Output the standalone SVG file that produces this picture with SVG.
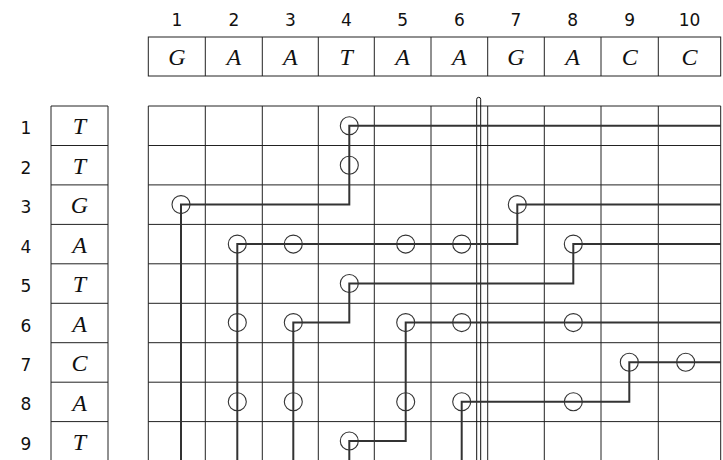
<svg xmlns="http://www.w3.org/2000/svg" width="723" height="460" viewBox="0 0 723 460">
<style>
.num{font-family:"DejaVu Sans","Liberation Sans",sans-serif;font-size:17px;fill:#111;text-anchor:middle}
.let{font-family:"Liberation Serif",serif;font-style:italic;font-size:24px;fill:#111;text-anchor:middle}
.box{fill:none;stroke:#222;stroke-width:1}
.grid{fill:none;stroke:#222;stroke-width:1}
.wire{fill:none;stroke:#333;stroke-width:2}
.dot{fill:none;stroke:#333;stroke-width:1.1}
.bar{fill:none;stroke:#111;stroke-width:1}
</style>
<rect width="723" height="460" fill="#fff"/>
<g id="header">
<text class="num" x="176.8" y="25.5">1</text>
<text class="num" x="233.8" y="25.5">2</text>
<text class="num" x="290.3" y="25.5">3</text>
<text class="num" x="346.3" y="25.5">4</text>
<text class="num" x="402.7" y="25.5">5</text>
<text class="num" x="459.3" y="25.5">6</text>
<text class="num" x="516" y="25.5">7</text>
<text class="num" x="572.7" y="25.5">8</text>
<text class="num" x="629.7" y="25.5">9</text>
<text class="num" x="689.5" y="25.5">10</text>
<rect class="box" x="148.3" y="37" width="572.4" height="39"/>
<path class="box" d="M205.3 37V76M262.3 37V76M318.3 37V76M374.3 37V76M431 37V76M487.7 37V76M544.3 37V76M601 37V76M658.3 37V76"/>
<text class="let" x="176.8" y="65">G</text>
<text class="let" x="233.8" y="65">A</text>
<text class="let" x="290.3" y="65">A</text>
<text class="let" x="346.3" y="65">T</text>
<text class="let" x="402.7" y="65">A</text>
<text class="let" x="459.3" y="65">A</text>
<text class="let" x="516" y="65">G</text>
<text class="let" x="572.7" y="65">A</text>
<text class="let" x="629.7" y="65">C</text>
<text class="let" x="689.5" y="65">C</text>
</g>
<g id="rows">
<text class="num" x="26" y="134.3">1</text>
<text class="num" x="26" y="173.7">2</text>
<text class="num" x="26" y="213.2">3</text>
<text class="num" x="26" y="252.6">4</text>
<text class="num" x="26" y="292.1">5</text>
<text class="num" x="26" y="331.5">6</text>
<text class="num" x="26" y="371">7</text>
<text class="num" x="26" y="410.4">8</text>
<text class="num" x="26" y="449.9">9</text>
<path class="box" d="M51 460V106H108V460M51 145.5H108M51 184.9H108M51 224.4H108M51 263.8H108M51 303.3H108M51 342.7H108M51 382.2H108M51 421.6H108"/>
<text class="let" x="79.5" y="134.4">T</text>
<text class="let" x="79.5" y="173.8">T</text>
<text class="let" x="79.5" y="213.3">G</text>
<text class="let" x="79.5" y="252.7">A</text>
<text class="let" x="79.5" y="292.2">T</text>
<text class="let" x="79.5" y="331.6">A</text>
<text class="let" x="79.5" y="371.1">C</text>
<text class="let" x="79.5" y="410.5">A</text>
<text class="let" x="79.5" y="450">T</text>
</g>
<g id="grid">
<path class="grid" d="M148.3 106H720.7M148.3 145.5H720.7M148.3 184.9H720.7M148.3 224.4H720.7M148.3 263.8H720.7M148.3 303.3H720.7M148.3 342.7H720.7M148.3 382.2H720.7M148.3 421.6H720.7"/>
<path class="grid" d="M148.3 106V460M205.3 106V460M262.3 106V460M318.3 106V460M374.3 106V460M431 106V460M487.7 106V460M544.3 106V460M601 106V460M658.3 106V460M720.7 106V460"/>
<path id="divider" class="bar" d="M476.7 460V99.3A2 2 0 0 1 480.7 99.3V460"/>
</g>
<g id="connectors">
<path class="wire" d="M720.7 125.7H349.3V204.6H181V460"/>
<path class="wire" d="M720.7 204.6H517.3V244.1H237.3V460"/>
<path class="wire" d="M720.7 244.1H573.3V283.5H349.3V322.6H293.3V460"/>
<path class="wire" d="M720.7 322.6H405.7V441H349.3V460"/>
<path class="wire" d="M720.7 362.3H629.3V401.7H461.7V460"/>
</g>
<g id="marks">
<circle id="m1-4" class="dot" cx="349.3" cy="125.7" r="9"/>
<circle id="m2-4" class="dot" cx="349.3" cy="165.2" r="9"/>
<circle id="m3-1" class="dot" cx="181" cy="204.6" r="9"/>
<circle id="m3-7" class="dot" cx="517.3" cy="204.6" r="9"/>
<circle id="m4-2" class="dot" cx="237.3" cy="244.1" r="9"/>
<circle id="m4-3" class="dot" cx="293.3" cy="244.1" r="9"/>
<circle id="m4-5" class="dot" cx="405.7" cy="244.1" r="9"/>
<circle id="m4-6" class="dot" cx="461.7" cy="244.1" r="9"/>
<circle id="m4-8" class="dot" cx="573.3" cy="244.1" r="9"/>
<circle id="m5-4" class="dot" cx="349.3" cy="283.5" r="9"/>
<circle id="m6-2" class="dot" cx="237.3" cy="322.6" r="9"/>
<circle id="m6-3" class="dot" cx="293.3" cy="322.6" r="9"/>
<circle id="m6-5" class="dot" cx="405.7" cy="322.6" r="9"/>
<circle id="m6-6" class="dot" cx="461.7" cy="322.6" r="9"/>
<circle id="m6-8" class="dot" cx="573.3" cy="322.6" r="9"/>
<circle id="m7-9" class="dot" cx="629.3" cy="362.3" r="9"/>
<circle id="m7-10" class="dot" cx="685.7" cy="362.3" r="9"/>
<circle id="m8-2" class="dot" cx="237.3" cy="401.7" r="9"/>
<circle id="m8-3" class="dot" cx="293.3" cy="401.7" r="9"/>
<circle id="m8-5" class="dot" cx="405.7" cy="401.7" r="9"/>
<circle id="m8-6" class="dot" cx="461.7" cy="401.7" r="9"/>
<circle id="m8-8" class="dot" cx="573.3" cy="401.7" r="9"/>
<circle id="m9-4" class="dot" cx="349.3" cy="441" r="9"/>
</g>
</svg>
